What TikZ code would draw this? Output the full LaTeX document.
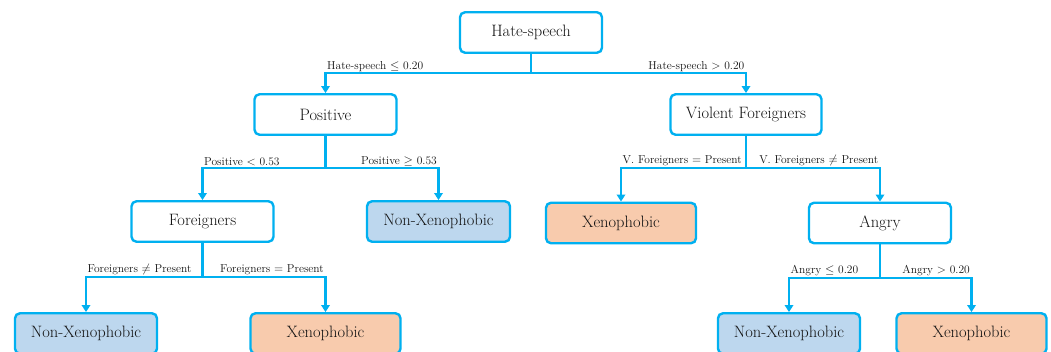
\documentclass[tikz,border=0pt]{standalone}
\usepackage{tikz}
\usetikzlibrary{arrows.meta}
\definecolor{Cyan}{HTML}{00B0F0}
\definecolor{NonXeno}{HTML}{BDD7EE}
\definecolor{Xeno}{HTML}{F8CBAD}
\definecolor{Ink}{HTML}{141414}

\tikzset{
  split/.style={draw=Cyan,line width=2.4pt,rounded corners=5pt,fill=white,text=Ink,
    minimum height=40.5pt,minimum width=142pt,font=\fontsize{16.5}{18}\selectfont},
  nonx/.style={split,fill=NonXeno},
  xeno/.style={split,fill=Xeno,minimum width=150pt},
  link/.style={draw=Cyan,line width=2.2pt,-{Triangle[width=8.5pt,length=7pt]}},
  cond/.style={text=Ink,inner sep=1.5pt,font=\fontsize{11.5}{13}\selectfont}
}

\begin{document}
\begin{tikzpicture}[x=1pt,y=1pt]
      \useasboundingbox (0,0) rectangle (1051,351);
      % nodes
      \node[split] (hate) at (531,318.5) {Hate-speech};
      \node[split] (positive) at (325.5,236.5) {Positive};
      \node[split,minimum width=151pt] (violent) at (746,236.5) {Violent Foreigners};
      \node[split] (foreign) at (202.5,129.5) {Foreigners};
      \node[nonx,minimum width=143pt] (nonxA) at (438.5,129.5) {Non-Xenophobic};
      \node[xeno] (xenoA) at (621,128) {Xenophobic};
      \node[split] (angry) at (880,128) {Angry};
      \node[nonx] (nonxB) at (86,17.5) {Non-Xenophobic};
      \node[xeno] (xenoB) at (325.5,17.5) {Xenophobic};
      \node[nonx] (nonxC) at (789,17.5) {Non-Xenophobic};
      \node[xeno] (xenoC) at (971.5,17.5) {Xenophobic};
      % junctions
      \coordinate (hateJ) at (531,278);
      \coordinate (posJ) at (325.5,183);
      \coordinate (violJ) at (746,183);
      \coordinate (forJ) at (202.5,74);
      \coordinate (angJ) at (880,73);
      % connectors
      \draw[link] (hate.south) -- (hateJ) -| (positive.north);
      \draw[link] (hateJ) -| (violent.north);
      \draw[link] (positive.south) -- (posJ) -| (foreign.north);
      \draw[link] (posJ) -| (nonxA.north);
      \draw[link] (violent.south) -- (violJ) -| (xenoA.north);
      \draw[link] (violJ) -| (angry.north);
      \draw[link] (foreign.south) -- (forJ) -| (nonxB.north);
      \draw[link] (forJ) -| (xenoB.north);
      \draw[link] (angry.south) -- (angJ) -| (nonxC.north);
      \draw[link] (angJ) -| (xenoC.north);
      % conditions
      \node[cond,anchor=south west] (hateL) at (positive.north |- hateJ) {Hate-speech $\leq$ 0.20};
      \node[cond,anchor=south east] (hateR) at (violent.north |- hateJ) {Hate-speech $>$ 0.20};
      \node[cond,anchor=south west] (posL) at (foreign.north |- posJ) {Positive $<$ 0.53};
      \node[cond,anchor=south east] (posR) at (nonxA.north |- posJ) {Positive $\geq$ 0.53};
      \node[cond,anchor=south west] (violL) at (xenoA.north |- violJ) {V. Foreigners $=$ Present};
      \node[cond,anchor=south east] (violR) at (angry.north |- violJ) {V. Foreigners $\neq$ Present};
      \node[cond,anchor=south west] (forL) at (nonxB.north |- forJ) {Foreigners $\neq$ Present};
      \node[cond,anchor=south east] (forR) at (xenoB.north |- forJ) {Foreigners $=$ Present};
      \node[cond,anchor=south west] (angL) at (nonxC.north |- angJ) {Angry $\leq$ 0.20};
      \node[cond,anchor=south east] (angR) at (xenoC.north |- angJ) {Angry $>$ 0.20};
    \end{tikzpicture}
\end{document}
